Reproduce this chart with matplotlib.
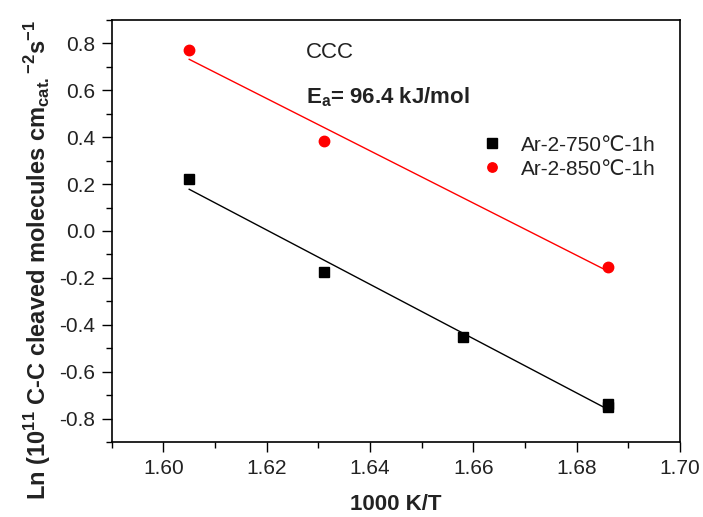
import numpy as np
import matplotlib
matplotlib.use('Agg')
import matplotlib.pyplot as plt

plt.rcParams['font.family'] = ['Liberation Sans', 'DejaVu Sans']
plt.rcParams['mathtext.fontset'] = 'custom'
plt.rcParams['mathtext.rm'] = 'Liberation Sans'
plt.rcParams['mathtext.bf'] = 'Liberation Sans:bold'

# data
x_750 = [1.605, 1.631, 1.658, 1.686, 1.686]
y_750 = [0.22, -0.176, -0.454, -0.740, -0.752]
x_850 = [1.605, 1.631, 1.686]
y_850 = [0.772, 0.384, -0.152]

fig = plt.figure(figsize=(7.03, 5.17), dpi=100)
ax = fig.add_axes([111.7/703, 75/517, (680-111.7)/703, 422/517])

# linear fits
for xs, ys, c in [(x_750, y_750, 'black'), (x_850, y_850, 'red')]:
    k, b = np.polyfit(xs, ys, 1)
    xx = np.array([min(xs), max(xs)])
    ax.plot(xx, k*xx + b, color=c, lw=1.0)

ax.plot(x_750, y_750, 's', color='black', ms=7.5, ls='none', label='Ar-2-750℃-1h')
ax.plot(x_850, y_850, 'o', color='red', ms=7.5, ls='none', label='Ar-2-850℃-1h')

ax.set_xlim(1.59, 1.70)
ax.set_ylim(-0.9, 0.9)
ax.set_xticks([1.60, 1.62, 1.64, 1.66, 1.68, 1.70])
ax.set_xticks(np.arange(1.59, 1.705, 0.01), minor=True)
ax.set_yticks([-0.8, -0.6, -0.4, -0.2, 0.0, 0.2, 0.4, 0.6, 0.8])
ax.set_yticks(np.arange(-0.9, 0.91, 0.1), minor=True)
ax.xaxis.set_major_formatter(matplotlib.ticker.FormatStrFormatter('%.2f'))
ax.yaxis.set_major_formatter(matplotlib.ticker.FormatStrFormatter('%.1f'))
ax.tick_params(which='both', direction='out', top=False, right=False,
               labelsize=15, labelcolor='#222222', pad=5)
ax.tick_params(which='major', length=7, width=1)
ax.tick_params(which='minor', length=4, width=1)
for s in ax.spines.values():
    s.set_linewidth(1.2)

ax.set_xlabel('1000 K/T', fontsize=16, fontweight='bold', labelpad=12, color='#222222')
fig.text(38/703, 1 - 260/517,
         r'Ln (10$^{\mathbf{11}}$ C-C cleaved molecules cm$_{\mathbf{cat.}}$$^{\mathbf{-2}}$s$^{\mathbf{-1}}$',
         rotation=90, ha='center', va='center', fontsize=17, fontweight='bold', color='#222222')

ax.text(0.342, 0.922, 'CCC', transform=ax.transAxes, fontsize=16, va='center', color='#222222')
ax.text(0.342, 0.817, r'E$_{\mathbf{a}}$= 96.4 kJ/mol', transform=ax.transAxes, fontsize=16,
        fontweight='bold', va='center', color='#222222')

ax.legend(loc='center left', bbox_to_anchor=(0.6, 0.675), frameon=False, fontsize=15,
          handletextpad=0.4, labelspacing=0.25, markerscale=0.9, labelcolor='#222222')

fig.savefig('out.png', dpi=100)
